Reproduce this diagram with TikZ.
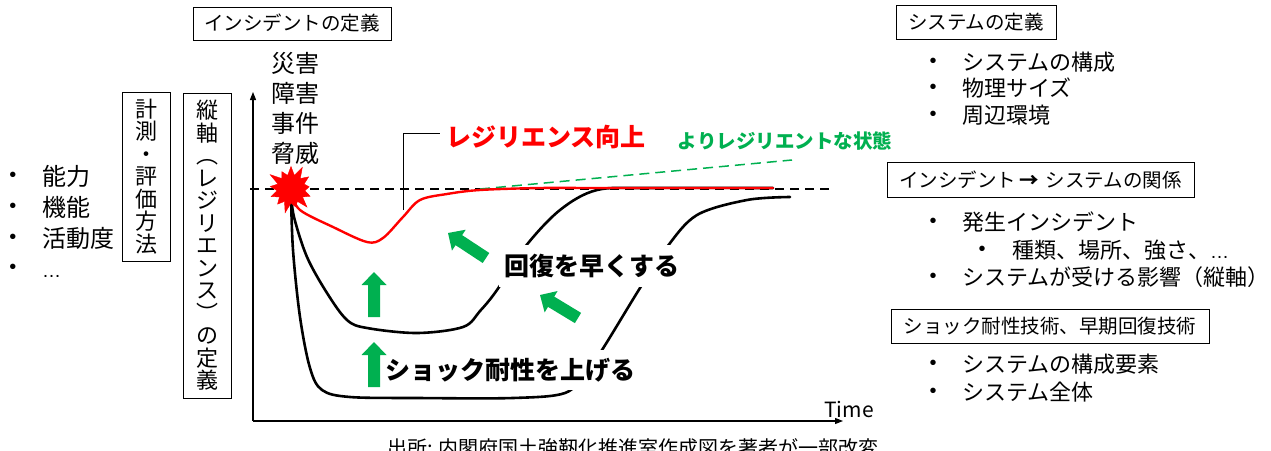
\documentclass[tikz,border=0pt]{standalone}
\usepackage{fontspec}
\setmainfont{Noto Sans CJK JP}
\newfontfamily\latinfont{Liberation Sans}
\usetikzlibrary{calc,shapes.symbols,arrows.meta}
\definecolor{okgreen}{RGB}{0,176,80}
\definecolor{okred}{RGB}{255,0,0}
\newcommand\fatarrow[2]{%
  \coordinate (hb) at ($(#1)!13pt!(#2)$);
  \fill[okgreen] (#1) -- ($(hb)!12.5pt!90:(#2)$) -- ($(hb)!6pt!90:(#2)$)
    -- ($(#2)!6pt!-90:(hb)$) -- ($(#2)!6pt!90:(hb)$)
    -- ($(hb)!6pt!-90:(#2)$) -- ($(hb)!12.5pt!-90:(#2)$) -- cycle;}
\newcommand\myell{{\latinfont\fontsize{19}{20}\selectfont …}}
\begin{document}
\begin{tikzpicture}[x=1pt,y=-1pt,
  titlebox/.style={draw=black, line width=0.8pt, inner sep=0pt, font=\fontsize{19.5}{20}\selectfont},
  vbox/.style={draw=black, line width=0.8pt, inner sep=0pt, align=center, font=\fontsize{22}{22.5}\selectfont},
  bul/.style={inner sep=0pt, font=\latinfont\fontsize{20}{24}\selectfont},
  item/.style={anchor=west, inner sep=0pt, font=\fontsize{22}{24}\selectfont},
  litem/.style={anchor=west, inner sep=0pt, font=\fontsize{24}{26}\selectfont},
  bigbold/.style={font=\fontsize{25}{26}\selectfont\bfseries},
  curve/.style={line width=2.6pt, line cap=round, line join=round},
  axis/.style={line width=1.1pt, -{Triangle[length=8pt,width=6pt]}}]
\useasboundingbox (0,0) rectangle (1271,450);

% ---- left column
\node[bul] (lb1) at (13,177) {•};
\node[litem] (li1) at (42,176) {能力};
\node[bul] (lb2) at (13,208) {•};
\node[litem] (li2) at (42,207) {機能};
\node[bul] (lb3) at (13,239) {•};
\node[litem] (li3) at (42,238) {活動度};
\node[bul] (lb4) at (13,269) {•};
\node[anchor=base west, inner sep=0pt] (li4) at (42,277) {\myell};

\node[vbox, minimum width=48pt, minimum height=169pt] (meas) at (146,176.5)
  {計\\測\\・\\評\\価\\方\\法};
\node[vbox, minimum width=48pt, minimum height=305pt] (vdef) at (207,245.5)
  {縦\\軸\\︵\\レ\\ジ\\リ\\エ\\ン\\ス\\︶\\の\\定\\義};

% ---- title over graph
\node[titlebox, minimum width=198pt, minimum height=33pt] (incdef) at (292,23.5) {インシデントの定義};
\node[align=center, inner sep=0pt, font=\fontsize{24}{30}\selectfont] (haz) at (295,108)
  {災害\\障害\\事件\\脅威};

% ---- axes
\coordinate (O) at (253,421);
\coordinate (ytop) at (253,92);
\coordinate (xend) at (843,421);
\draw[axis] (O) -- (ytop);
\draw[axis] (O) -- (xend);
\node[inner sep=0pt, font=\fontsize{21}{22}\selectfont] (time) at (849,409) {Time};

\coordinate (dl) at (250,189);
\coordinate (dr) at (832,189);
\draw[line width=1.1pt, dash pattern=on 9pt off 6pt] (dl) -- (dr);

% ---- curves
\draw[curve] plot[smooth, tension=0.55] coordinates {(291,193) (294,217) (307,257) (327,293) (347,320) (367,328) (417,333) (463,327) (480,311) (497,290) (525,247) (560,210) (597,190) (650,188) (773,188)};
\draw[curve] plot[smooth, tension=0.55] coordinates {(291,193) (293,250) (300,317) (310,368) (322,390) (350,397) (417,398) (513,398) (565,393) (585,373) (602,350) (640,288) (667,247) (697,215) (747,200) (790,197)};

\coordinate (gs) at (480,189);
\coordinate (ge) at (792,160);
\draw[okgreen, line width=1.5pt, dash pattern=on 10pt off 6pt] (gs) -- (ge);

\draw[okred, line width=2.4pt, line cap=round, line join=round] plot[smooth, tension=0.55] coordinates {(291,193) (300,210) (333,227) (367,242) (383,238) (403,217) (420,200) (447,194) (480,190) (540,188) (600,188) (773,188)};

\node[starburst, fill=okred, draw=okred, starburst points=13, starburst point height=12pt, minimum size=52pt, inner sep=0pt] (burst) at (291,189) {};

% ---- callout
\coordinate (c1) at (403,210);
\coordinate (c2) at (403,133);
\node[anchor=west, inner sep=0pt, text=okred, bigbold] (resup) at (446,137) {レジリエンス向上};
\draw[line width=0.9pt] (c1) -- (c2) -- ([xshift=-6pt]c2 -| resup.west);
\node[inner sep=0pt, text=okgreen, font=\fontsize{19.5}{20}\selectfont\bfseries] (better) at (785,141) {よりレジリエントな状態};

% ---- labels with white backing
\node[fill=white, inner xsep=6pt, inner ysep=9pt, bigbold] (recov) at (592,266) {回復を早くする};
\node[fill=white, inner xsep=2pt, inner ysep=8pt, bigbold] (shock) at (510,370) {ショック耐性を上げる};

% ---- green arrows
\coordinate (u1t) at (374,272); \coordinate (u1e) at (374,317);
\coordinate (u2t) at (374,342); \coordinate (u2e) at (374,387);
\coordinate (d1t) at (448,233); \coordinate (d1e) at (486,258);
\coordinate (d2t) at (540,295); \coordinate (d2e) at (578,318);
\fatarrow{u1t}{u1e}
\fatarrow{u2t}{u2e}
\fatarrow{d1t}{d1e}
\fatarrow{d2t}{d2e}

% ---- right column
\node[titlebox, minimum width=160pt, minimum height=34pt] (sysdef) at (976,22) {システムの定義};
\node[bul] (rb1) at (933,63) {•};
\node[item] (ri1) at (962,62) {システムの構成};
\node[bul] (rb2) at (933,89) {•};
\node[item] (ri2) at (962,88) {物理サイズ};
\node[bul] (rb3) at (933,116) {•};
\node[item] (ri3) at (962,115) {周辺環境};

\node[titlebox, minimum width=307pt, minimum height=35pt] (rel) at (1040.5,179.5) {インシデント\,{\bfseries →}\,\,システムの関係};
\node[bul] (rb4) at (933,223) {•};
\node[item] (ri4) at (962,222) {発生インシデント};
\node[bul] (rb5) at (982,251) {•};
\node[item] (ri5) at (1012,250) {種類、場所、強さ、\myell};
\node[bul] (rb6) at (933,278) {•};
\node[item] (ri6) at (962,277) {システムが受ける影響（縦軸）};

\node[titlebox, minimum width=318pt, minimum height=34pt] (tech) at (1050,326) {ショック耐性技術、早期回復技術};
\node[bul] (rb7) at (933,365) {•};
\node[item] (ri7) at (962,364) {システムの構成要素};
\node[bul] (rb8) at (933,393) {•};
\node[item] (ri8) at (962,392) {システム全体};

% ---- caption (cut by the lower edge, as in the reference)
\node[anchor=base west, inner sep=0pt, font=\fontsize{20}{22}\selectfont] (src) at (387,455) {出所: 内閣府国土強靭化推進室作成図を著者が一部改変};
\end{tikzpicture}
\end{document}
